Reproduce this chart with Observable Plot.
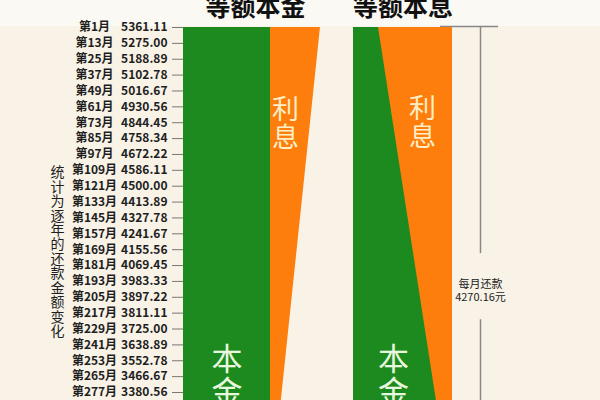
<!DOCTYPE html>
<html>
<head>
<meta charset="utf-8">
<script src="https://cdn.jsdelivr.net/npm/d3@7"></script>
<script src="https://cdn.jsdelivr.net/npm/@observablehq/plot@0.6"></script>
<style>
  html, body { margin: 0; padding: 0; width: 600px; height: 400px; overflow: hidden; }
  body { background: linear-gradient(#fbf9f4 0 26px, #f8f2e7 26px); font-family: "Noto Sans CJK SC", sans-serif; }
  #chart { position: relative; width: 600px; height: 400px; }
  #chart svg { position: absolute; left: 0; top: 0; }
</style>
</head>
<body>
<div id="chart"></div>
<script>
// ---- data ----
const titles = ["等额本金", "等额本息"];
const sideLabel = "统计为逐年的还款金额变化";
// months shown on the left axis (the last row lies just below the visible area)
const months = [1, 13, 25, 37, 49, 61, 73, 85, 97, 109, 121, 133, 145, 157, 169, 181, 193, 205, 217, 229, 241, 253, 265, 277, 289];
// 等额本金: monthly payment at those months
const payments = [5361.11, 5275.00, 5188.89, 5102.78, 5016.67, 4930.56, 4844.45, 4758.34, 4672.22, 4586.11, 4500.00, 4413.89, 4327.78, 4241.67, 4155.56, 4069.45, 3983.33, 3897.22, 3811.11, 3725.00, 3638.89, 3552.78, 3466.67, 3380.56, 3294.45];
const benjinPrincipal = 2777.78;        // constant principal part of 等额本金
// 等额本息
const benxiPayment = 4270.16;
const benxiMonths = [1, 360];
const benxiPrincipal = [1686.83, 4259.16];
const annotation = ["每月还款", "4270.16元"];
const bracketSegments = [{y1: 1, y2: 172}, {y1: 222, y2: 360}];

const green = "#1c8a1e", orange = "#fd7e0c";
const font = "'Noto Sans CJK SC', sans-serif";
const ink = "#1e1e1e";

const leftRows = months.map((m, i) => ({month: m, payment: payments[i]}));
const rightRows = benxiMonths.map((m, i) => ({month: m, principal: benxiPrincipal[i]}));
const stack = s => [...s].join("\n");

// every layer shares the same month scale; each band has its own value scale
function layer(xDomain, xRange, marks, extra = {}) {
  return Plot.plot({
    width: 600, height: 400,
    marginLeft: 183, marginTop: 27, marginBottom: 0, marginRight: 0,
    style: {background: "transparent", fontFamily: font, overflow: "hidden"},
    x: {type: "linear", axis: null, domain: xDomain, range: xRange},
    y: {type: "linear", domain: [months[0], months[23]], range: [27, 392], axis: null},
    marks,
    ...extra
  });
}

// 等额本金: principal band
const leftPrincipal = layer([0, benjinPrincipal], [183, 270], [
  Plot.areaX(leftRows, {y: "month", x1: () => 0, x2: () => benjinPrincipal, fill: green}),
  Plot.axisY(months, {
    label: null, tickSize: 11, tickPadding: 5, fontSize: 12, fontWeight: 600,
    stroke: "#777", fill: ink,
    tickFormat: m => payments[months.indexOf(m)].toFixed(2)
  }),
  Plot.text(months, {y: d => d, frameAnchor: "left", dx: -89, text: d => `第${d}月`,
    fontSize: 12, fontWeight: 600, fill: ink, textAnchor: "middle"}),
  Plot.text([sideLabel], {frameAnchor: "left", dx: -126, dy: 38, text: stack,
    fontSize: 14, lineHeight: 1.03, fill: ink, textAnchor: "middle"}),
  Plot.text([titles[0]], {x: () => benjinPrincipal, y: () => months[0], dx: -15, dy: -12,
    text: d => d, lineAnchor: "bottom", fontSize: 25, fontWeight: "bold", fill: "#111"}),
  Plot.text(["本金"], {x: () => benjinPrincipal / 2, y: () => 242, text: stack,
    lineAnchor: "top", lineHeight: 1.08, fontSize: 31, fill: "#e8f8df"})
]);

// 等额本金: interest band
const leftInterest = layer([benjinPrincipal, payments[0]], [270, 320], [
  Plot.areaX(leftRows, {y: "month", x1: () => benjinPrincipal, x2: "payment", fill: orange}),
  Plot.text(["利息"], {x: () => benjinPrincipal, y: () => 55, dx: 15, text: stack,
    lineAnchor: "top", lineHeight: 1.04, fontSize: 27, fill: "#fdeec5"})
]);

// 等额本息: whole payment (principal colour underneath) + payment bracket
const rightPayment = layer([0, benxiPayment], [353, 452], [
  Plot.areaX(rightRows, {y: "month", x1: () => 0, x2: () => benxiPayment, fill: green}),
  Plot.text([titles[1]], {x: () => benxiPayment / 2, y: () => months[0], dy: -12,
    text: d => d, lineAnchor: "bottom", fontSize: 25, fontWeight: "bold", fill: "#111"}),
  Plot.ruleY([months[0]], {dy: -1, stroke: "#888", strokeWidth: 1.5}),
  Plot.ruleX(bracketSegments, {x: () => benxiPayment, dx: 28, y1: "y1", y2: "y2", stroke: "#888", strokeWidth: 1.5}),
  Plot.text([annotation.join("\n")], {x: () => benxiPayment, y: () => 200, dx: 28, text: d => d,
    fontSize: 11, lineHeight: 1.1, fill: "#222"})
], {marginLeft: 440, marginRight: 102});

// 等额本息: interest part of the payment
const rightInterest = layer([benxiPrincipal[0], benxiPayment], [378, 452], [
  Plot.areaX(rightRows, {y: "month", x1: "principal", x2: () => benxiPayment, fill: orange}),
  Plot.text(["利息"], {x: () => benxiPayment, y: () => 54, dx: -30, text: stack,
    lineAnchor: "top", lineHeight: 1.04, fontSize: 27, fill: "#fdeec5"}),
  Plot.text(["本金"], {x: () => benxiPrincipal[0], y: () => 242, dx: 15, text: stack,
    lineAnchor: "top", lineHeight: 1.08, fontSize: 31, fill: "#e8f8df"})
]);

document.getElementById("chart").append(leftPrincipal, leftInterest, rightPayment, rightInterest);
</script>
</body>
</html>
